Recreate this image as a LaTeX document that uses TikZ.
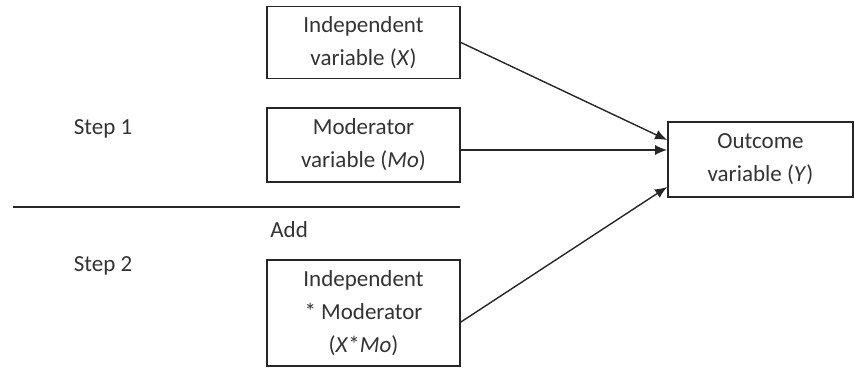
\documentclass[tikz,border=0pt]{standalone}
\usepackage{fontspec}
\setmainfont{Carlito}
\usetikzlibrary{arrows.meta, positioning}

\tikzset{
	box/.style={draw=black!85, line width=0.9pt, align=center, inner sep=0pt, minimum width=96.5pt, text=black!80, font=\fontsize{11.5}{16.5}\selectfont},
	plain/.style={text=black!80, font=\fontsize{11.5}{16.5}\selectfont, inner sep=0pt},
	arrow/.style={line width=0.7pt, draw=black!85, -{Latex[length=6pt, width=5pt]}}
}

\begin{document}
\begin{tikzpicture}[x=0.5pt, y=-0.5pt]
	\useasboundingbox (0,0) rectangle (854,369);
	\node[box, minimum width=92.5pt, minimum height=37.5pt] (0) at (760.5,159.5) {Outcome\\variable (\textit{Y})};
	\node[box, minimum height=36pt] (1) at (363.5,42.5) {Independent\\variable (\textit{X})};
	\node[box, minimum height=37pt] (2) at (363.5,145) {Moderator\\variable (\textit{Mo})};
	\node[box, minimum height=53pt] (3) at (363.5,313) {Independent\\* Moderator\\(\textit{X}*\textit{Mo})};
	\node[plain] (s1) at (103,129) {Step 1};
	\node[plain] (s2) at (103,266) {Step 2};
	\node[plain, anchor=west] (add) at (270,230) {Add};
	% divider between the two steps
	\coordinate (l) at (13,207);
	\coordinate (r) at (460,207);
	\draw[line width=0.8pt, black!85] (l) -- (r);
	\foreach \index/\from/\to in {1/0/9.75, 2/-2.5/4.75, 3/-4.5/-13.75}{
		\draw[arrow] ([yshift=\from pt]\index.east) -- ([yshift=\to pt]0.west);
	};
\end{tikzpicture}
\end{document}
